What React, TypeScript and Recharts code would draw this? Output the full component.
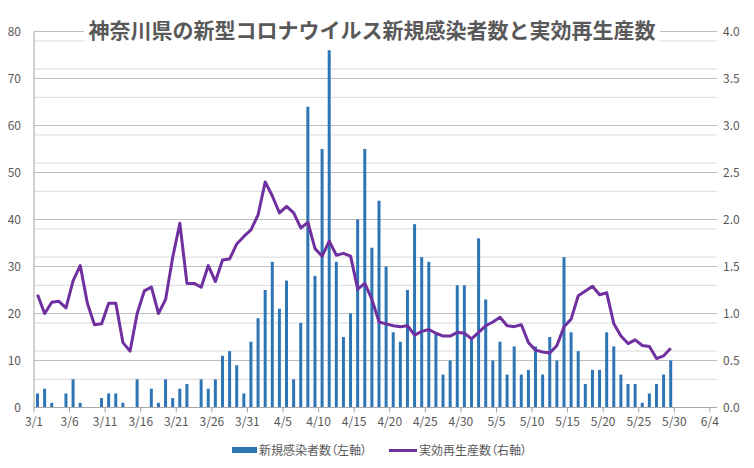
import { ComposedChart, Bar, Line, XAxis, YAxis, CartesianGrid, Legend } from 'recharts'

// 3/1 - 5/29 daily values
const newCases = [
  3, 4, 1, 0, 3, 6, 1, 0, 0, 2, 3, 3, 1, 0, 6, 0, 4, 1, 6, 2, 4, 5, 0, 6, 4, 6, 11, 12, 9, 3, 14,
  19, 25, 31, 21, 27, 6, 18, 64, 28, 55, 76, 31, 15, 20, 40, 55, 34, 44, 30, 16, 14, 25, 39, 32, 31, 16, 7, 10, 26, 26,
  15, 36, 23, 10, 14, 7, 13, 7, 8, 13, 7, 15, 10, 32, 16, 12, 5, 8, 8, 16, 13, 7, 5, 5, 1, 3, 5, 7, 10,
]

const rtValues = [
  1.2, 1.0, 1.12, 1.13, 1.06, 1.35, 1.51, 1.11, 0.88, 0.89, 1.11, 1.11, 0.69, 0.6, 1.0, 1.24, 1.28, 1.0, 1.15, 1.6,
  1.96, 1.32, 1.32, 1.28, 1.51, 1.34, 1.57, 1.58, 1.74, 1.82, 1.89,
  2.05, 2.4, 2.25, 2.07, 2.14, 2.07, 1.91, 1.97, 1.69, 1.61, 1.77, 1.62, 1.64, 1.61, 1.26, 1.32, 1.15, 0.91, 0.89,
  0.87, 0.86, 0.87, 0.77, 0.81, 0.83, 0.79, 0.76, 0.76, 0.8, 0.79,
  0.73, 0.8, 0.87, 0.91, 0.96, 0.87, 0.86, 0.88, 0.69, 0.61, 0.59, 0.58, 0.66, 0.86, 0.94, 1.19, 1.24, 1.29, 1.2,
  1.22, 0.89, 0.76, 0.68, 0.72, 0.66, 0.65, 0.52, 0.55, 0.63,
]

const tickLabels = [
  '3/1', '3/6', '3/11', '3/16', '3/21', '3/26', '3/31', '4/5', '4/10', '4/15',
  '4/20', '4/25', '4/30', '5/5', '5/10', '5/15', '5/20', '5/25', '5/30', '6/4',
]
const leftTicks = [0, 10, 20, 30, 40, 50, 60, 70, 80]
const rightTicks = [0, 0.5, 1, 1.5, 2, 2.5, 3, 3.5, 4]
const minorLines = [2, 4, 6, 8, 12, 14, 16, 18, 22, 24, 26, 28, 32, 34, 36, 38, 42, 44, 46, 48, 52, 54, 56, 58, 62, 64, 66, 68, 72, 74, 76, 78]

const title = '神奈川県の新型コロナウイルス新規感染者数と実効再生産数'
const barName = '新規感染者数（左軸）'
const lineName = '実効再生産数（右軸）'

const data = newCases.map((v, i) => ({ x: i + 0.5, cases: v, rt: rtValues[i] }))
const xTicks = tickLabels.map((_, i) => i * 5)

const FONT = '"Noto Sans CJK JP", "Noto Sans", sans-serif'
const TEXT = '#595959'

const renderLegend = () => (
  <div style={{ position: 'relative', width: 754, height: 20, fontFamily: FONT, fontSize: 12, color: TEXT, fontFeatureSettings: '"palt"' }}>
    <div style={{ position: 'absolute', left: 232, top: 7, width: 25, height: 6, background: '#2E75B6' }} />
    <div style={{ position: 'absolute', left: 259, top: 1, lineHeight: '18px', whiteSpace: 'nowrap' }}>{barName}</div>
    <div style={{ position: 'absolute', left: 389, top: 8.5, width: 28, height: 3, background: '#7030A0' }} />
    <div style={{ position: 'absolute', left: 419, top: 1, lineHeight: '18px', whiteSpace: 'nowrap' }}>{lineName}</div>
  </div>
)

export default function App() {
  return (
    <div style={{ position: 'absolute', left: 0, top: 0, width: 754, height: 468, background: '#fff' }}>
      <ComposedChart
        width={754}
        height={468}
        data={data}
        margin={{ top: 31.5, right: 0, bottom: 30.5, left: 0 }}
        style={{ fontFamily: FONT }}
      >
        <CartesianGrid yAxisId="left" vertical={false} horizontalValues={minorLines} stroke="#D9D9D9" />
        <CartesianGrid yAxisId="left" vertical={false} horizontalValues={leftTicks} stroke="#BFBFBF" />
        <XAxis
          dataKey="x"
          type="number"
          domain={[0, 96]}
          ticks={xTicks}
          tickFormatter={(v: number) => tickLabels[v / 5]}
          interval={0}
          height={30}
          stroke="#A6A6A6"
          tickSize={5}
          tickMargin={5}
          tick={{ fill: TEXT, fontSize: 12 }}
        />
        <YAxis
          yAxisId="left"
          domain={[0, 80]}
          ticks={leftTicks}
          width={34}
          stroke="#A6A6A6"
          tickLine={false}
          tickSize={6}
          tickMargin={7}
          tick={{ fill: TEXT, fontSize: 12 }}
        />
        <YAxis
          yAxisId="right"
          orientation="right"
          domain={[0, 4]}
          ticks={rightTicks}
          tickFormatter={(v: number) => v.toFixed(1)}
          width={37}
          axisLine={false}
          tickLine={false}
          tickSize={4}
          tickMargin={2}
          tick={{ fill: TEXT, fontSize: 12 }}
        />
        <Bar yAxisId="left" dataKey="cases" name={barName} fill="#2E75B6" barSize={3} isAnimationActive={false} />
        <Line
          yAxisId="right"
          dataKey="rt"
          name={lineName}
          type="linear"
          stroke="#7030A0"
          strokeWidth={3}
          strokeLinejoin="round"
          dot={false}
          activeDot={false}
          isAnimationActive={false}
        />
        <Legend
          layout="horizontal"
          verticalAlign="middle"
          align="center"
          content={renderLegend}
          wrapperStyle={{ top: 440, left: 0, width: 754, height: 20 }}
        />
      </ComposedChart>
      <div
        style={{
          position: 'absolute',
          left: 84,
          top: 14,
          width: 576,
          height: 30,
          background: '#fff',
          textAlign: 'center',
          fontFamily: FONT,
          fontSize: 21,
          fontWeight: 'bold',
          lineHeight: '30px',
          color: TEXT,
          whiteSpace: 'nowrap',
        }}
      >
        {title}
      </div>
    </div>
  )
}
